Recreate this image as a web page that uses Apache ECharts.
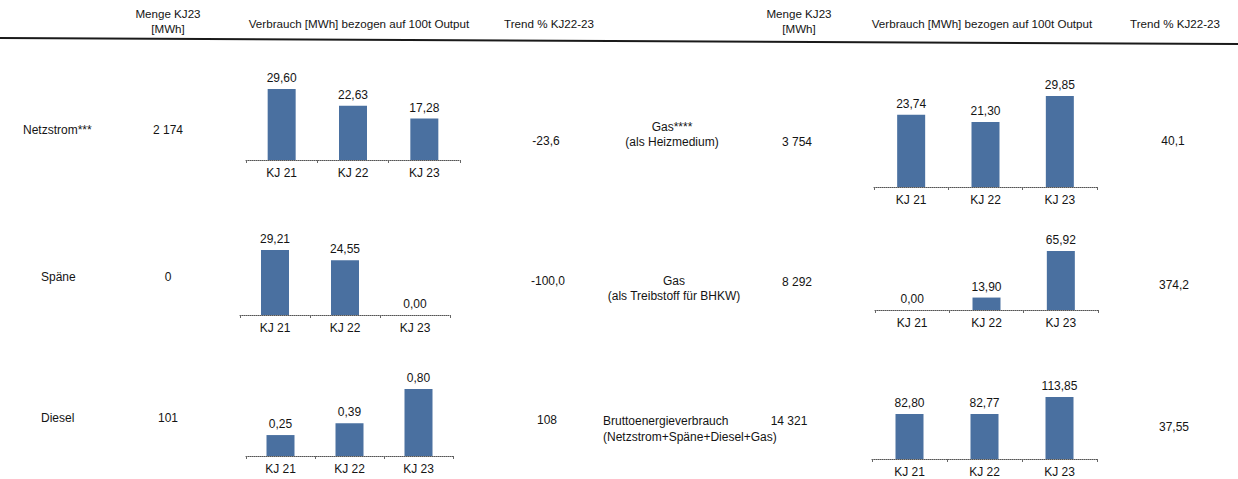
<!DOCTYPE html>
<html>
<head>
<meta charset="utf-8">
<script src="https://cdn.jsdelivr.net/npm/echarts@6/dist/echarts.min.js"></script>
<style>
  html, body { margin: 0; padding: 0; background: #ffffff; }
  #chart { width: 1238px; height: 479px; }
</style>
</head>
<body>
<div id="chart"></div>
<script>
// Energy consumption per 100 t output, fiscal years KJ 21 – KJ 23
const categories = ['KJ 21', 'KJ 22', 'KJ 23'];

const netzstrom = [29.60, 22.63, 17.28];
const spaene    = [29.21, 24.55, 0.00];
const diesel    = [0.25, 0.39, 0.80];
const gasHeiz   = [23.74, 21.30, 29.85];
const gasBhkw   = [0.00, 13.90, 65.92];
const brutto    = [82.80, 82.77, 113.85];

const headerMenge = ['Menge KJ23', '[MWh]'];
const headerVerbrauch = 'Verbrauch [MWh] bezogen auf 100t Output';
const headerTrend = 'Trend % KJ22-23';

const rowNames = [
  ['Netzstrom***'],
  ['Späne'],
  ['Diesel'],
  ['Gas****', '(als Heizmedium)'],
  ['Gas', '(als Treibstoff für BHKW)'],
  ['Bruttoenergieverbrauch', '(Netzstrom+Späne+Diesel+Gas)']
];
const mengeKJ23 = ['2 174', '0', '101', '3 754', '8 292', '14 321'];
const trendKJ22_23 = ['-23,6', '-100,0', '108', '40,1', '374,2', '37,55'];

const seriesData = [netzstrom, spaene, diesel, gasHeiz, gasBhkw, brutto];

// Layout of each small bar panel: axis x-range, top of the tallest bar, axis baseline
const panels = [
  { x0: 246, x1: 460, top: 89,  base: 160 },
  { x0: 240, x1: 450, top: 250, base: 315 },
  { x0: 246, x1: 453, top: 389, base: 456 },
  { x0: 874, x1: 1097, top: 96, base: 187 },
  { x0: 875, x1: 1098, top: 251, base: 310 },
  { x0: 872, x1: 1097, top: 397, base: 459 }
];

// Table text positions per row
const rowLayout = [
  { name: { x: 23,  y: [130], align: 'left' },   menge: { x: 168, y: 130 }, trend: { x: 546, y: 141 } },
  { name: { x: 41,  y: [277], align: 'left' },   menge: { x: 168, y: 277 }, trend: { x: 548, y: 281 } },
  { name: { x: 41,  y: [418], align: 'left' },   menge: { x: 168, y: 418 }, trend: { x: 547, y: 420 } },
  { name: { x: 672, y: [127, 142], align: 'center' }, menge: { x: 797, y: 142 }, trend: { x: 1173, y: 141 } },
  { name: { x: 674, y: [281, 296], align: 'center' }, menge: { x: 797, y: 282 }, trend: { x: 1174, y: 285 } },
  { name: { x: 603, y: [421, 437], align: 'left' },   menge: { x: 789, y: 421 }, trend: { x: 1174, y: 427 } }
];

const H = 479;
const FONT = '"Liberation Sans", Arial, sans-serif';
const TEXT = '#141414';
const BAR = '#4a70a0';

const fmt = v => v.toFixed(2).replace('.', ',');

const grid = [], xAxis = [], yAxis = [], series = [];
panels.forEach((p, i) => {
  grid.push({ left: p.x0, top: p.top, width: p.x1 - p.x0, height: p.base - p.top });
  xAxis.push({
    type: 'category', gridIndex: i, data: categories,
    axisLine: { lineStyle: { color: '#555', type: 'dotted', width: 1 } },
    axisTick: { show: true, length: 3, lineStyle: { color: '#666' } },
    axisLabel: { color: TEXT, fontSize: 12, fontFamily: FONT, margin: 7 }
  });
  yAxis.push({ type: 'value', gridIndex: i, min: 0, max: 'dataMax', show: false, splitLine: { show: false } });
  series.push({
    type: 'bar', xAxisIndex: i, yAxisIndex: i, data: seriesData[i],
    barWidth: 28,
    itemStyle: { color: BAR },
    label: {
      show: true, position: 'top', distance: 5,
      color: TEXT, fontSize: 12, fontFamily: FONT,
      formatter: prm => fmt(prm.value)
    },
    silent: true, animation: false
  });
});

const graphic = [];
const txt = (text, x, y, align, size) => graphic.push({
  type: 'text', silent: true,
  style: { text, x, y, fill: TEXT, font: (size || 12) + 'px ' + FONT, align: align || 'center', verticalAlign: 'middle' }
});

// Column headers, left and right half
[[168, 359, 549], [799, 982, 1175]].forEach(c => {
  txt(headerMenge[0], c[0], 13, 'center', 11.6);
  txt(headerMenge[1], c[0], 28, 'center', 11.6);
  txt(headerVerbrauch, c[1], 23, 'center', 11.6);
  txt(headerTrend, c[2], 23, 'center', 11.6);
});

// Header rule
graphic.push({
  type: 'line', silent: true,
  shape: { x1: 0, y1: 38, x2: 1238, y2: 44 },
  style: { stroke: '#1a1a1a', lineWidth: 2 }
});

rowNames.forEach((lines, i) => {
  const L = rowLayout[i];
  lines.forEach((t, k) => txt(t, L.name.x, L.name.y[k], L.name.align));
  txt(mengeKJ23[i], L.menge.x, L.menge.y, 'center');
  txt(trendKJ22_23[i], L.trend.x, L.trend.y, 'center');
});

const chart = echarts.init(document.getElementById('chart'), null, { renderer: 'svg', width: 1238, height: H });
chart.setOption({
  backgroundColor: '#ffffff',
  animation: false,
  grid, xAxis, yAxis, series, graphic
});
</script>
</body>
</html>
